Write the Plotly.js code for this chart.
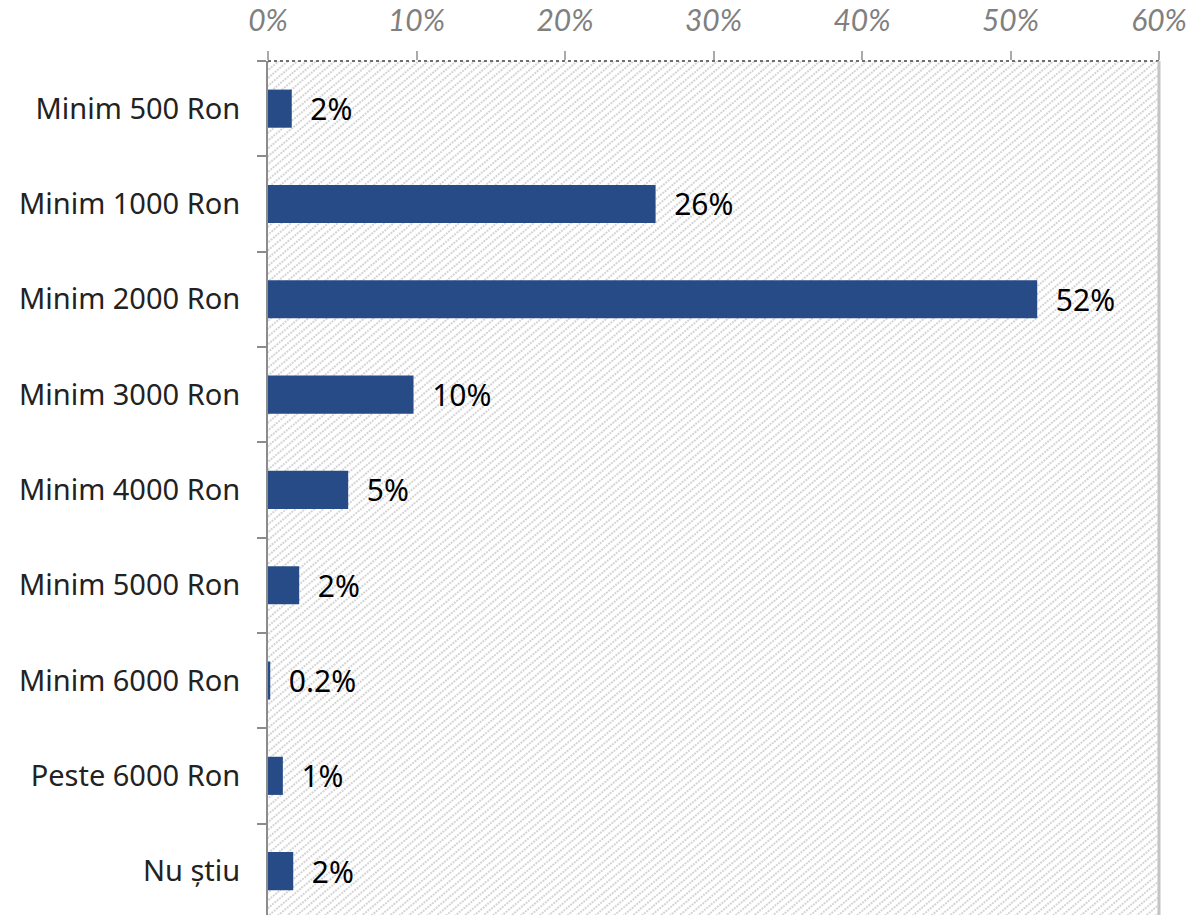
<!DOCTYPE html>
<html>
<head>
<meta charset="utf-8">
<script src="https://cdn.plot.ly/plotly-3.0.1.min.js"></script>
<style>html,body{margin:0;padding:0;background:#fff;}#chart{width:1195px;height:915px;}</style>
</head>
<body>
<div id="chart"></div>
<script>
// Data
const categories = ["Minim 500 Ron","Minim 1000 Ron","Minim 2000 Ron","Minim 3000 Ron","Minim 4000 Ron","Minim 5000 Ron","Minim 6000 Ron","Peste 6000 Ron","Nu știu"];
const values = [1.6, 26.1, 51.8, 9.8, 5.4, 2.1, 0.15, 1.0, 1.7];
const valueLabels = ["2%","26%","52%","10%","5%","2%","0.2%","1%","2%"];
const xTicks = [0,10,20,30,40,50,60];

const W = 1195, H = 915;
const M = {l:268, r:36, t:61, b:0};
const pw = W - M.l - M.r, ph = H - M.t - M.b;

// hatch background as svg image
const svg = `<svg xmlns="http://www.w3.org/2000/svg" width="${pw}" height="${ph}">
<defs><pattern id="p" width="6" height="6" patternUnits="userSpaceOnUse" patternTransform="rotate(50)">
<line x1="1" y1="0" x2="1" y2="6" stroke="#cbcbcb" stroke-width="1.6" stroke-dasharray="2,1"/></pattern></defs>
<rect width="100%" height="100%" fill="#fff"/><rect width="100%" height="100%" fill="url(#p)"/></svg>`;
const src = "data:image/svg+xml;base64," + btoa(unescape(encodeURIComponent(svg)));

const FONT = "Noto Sans, Open Sans, sans-serif";

const trace = {
  type: "bar",
  orientation: "h",
  y: categories,
  x: values,
  width: 0.4,
  marker: {color: "#264b86"},
  text: valueLabels.map(s => "\u00a0\u00a0" + s),
  textposition: "outside",
  textangle: 0,
  constraintext: "none",
  cliponaxis: false,
  textfont: {family: FONT, size: 30, color: "#000"},
  hoverinfo: "none"
};

const layout = {
  width: W, height: H,
  margin: M,
  paper_bgcolor: "#fff",
  plot_bgcolor: "rgba(0,0,0,0)",
  showlegend: false,
  bargap: 0.6,
  xaxis: {
    side: "top",
    range: [0, 60],
    tickvals: xTicks,
    ticktext: xTicks.map(v => v + "%"),
    showgrid: false,
    zeroline: false,
    showline: false,
    ticks: "outside",
    ticklen: 9,
    tickwidth: 2,
    tickcolor: "#aaa",
    ticklabelstandoff: 8,
    tickfont: {family: "Lato", size: 30, color: "#808080", style: "italic"},
    fixedrange: true
  },
  yaxis: {
    type: "category",
    range: [8.46, -0.5],
    showgrid: false,
    zeroline: false,
    showline: true,
    linecolor: "#8c8c8c",
    linewidth: 2,
    ticks: "outside",
    tickson: "boundaries",
    ticklen: 9,
    tickwidth: 2,
    tickcolor: "#8c8c8c",
    ticklabelstandoff: 20,
    tickfont: {family: FONT, size: 29, color: "#222"},
    fixedrange: true
  },
  images: [{
    source: src, xref: "paper", yref: "paper", x: 0, y: 1,
    sizex: 1, sizey: 1, xanchor: "left", yanchor: "top",
    sizing: "stretch", layer: "below"
  }],
  shapes: [
    {type: "line", xref: "paper", yref: "paper", x0: 0, x1: 1, y0: 1, y1: 1,
     line: {color: "#6f6f6f", width: 2, dash: "dot"}},
    {type: "line", xref: "paper", yref: "paper", x0: 1, x1: 1, y0: 0, y1: 1,
     line: {color: "#c4c4c4", width: 3}}
  ]
};

Plotly.newPlot("chart", [trace], layout, {staticPlot: true, displayModeBar: false});
</script>
</body>
</html>
